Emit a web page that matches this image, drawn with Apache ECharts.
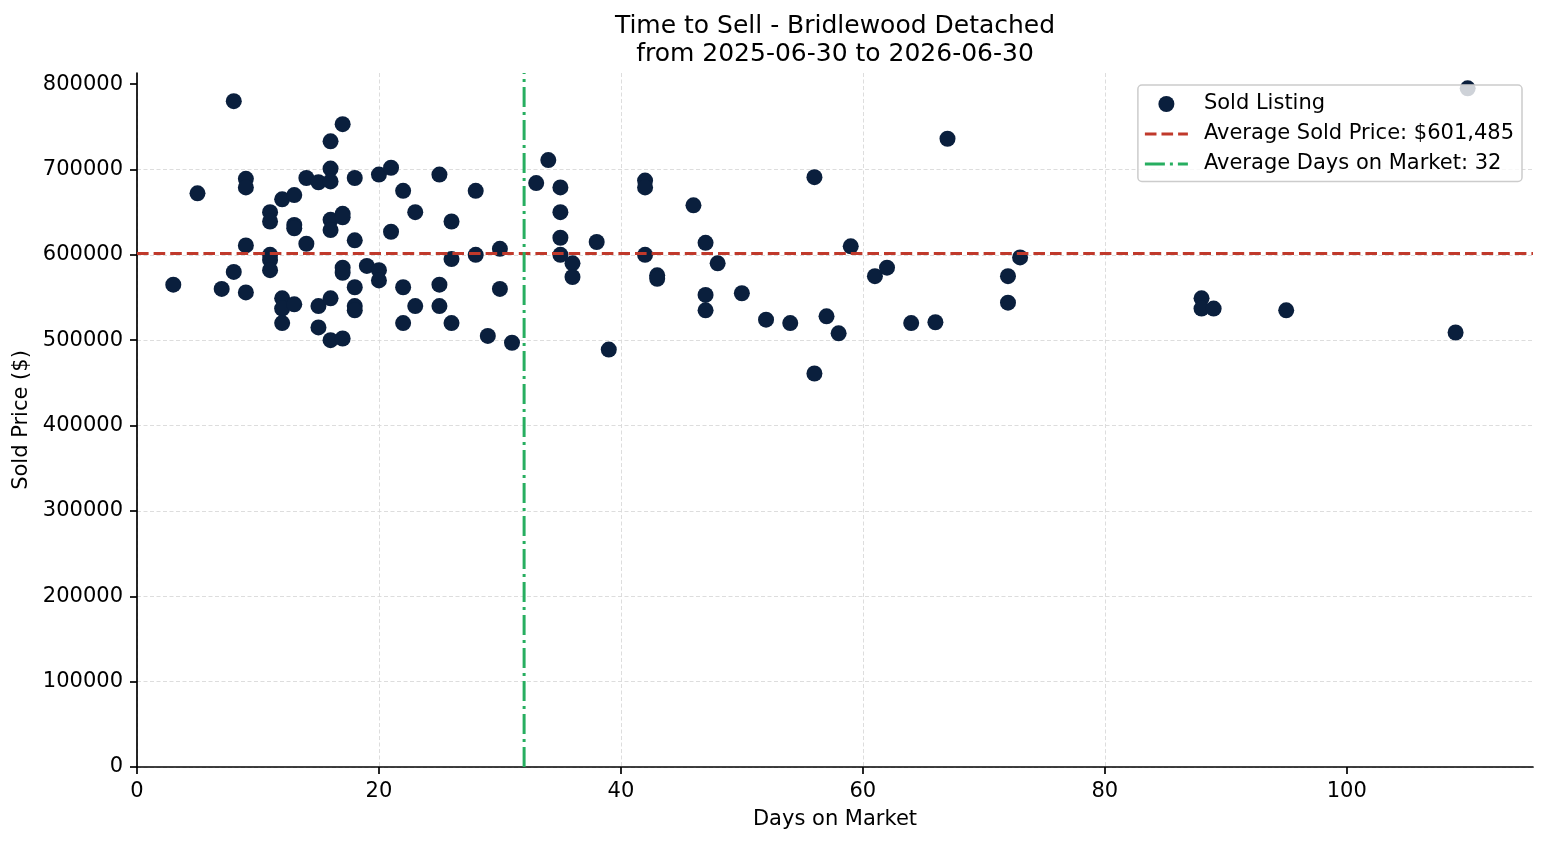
<!DOCTYPE html>
<html><head><meta charset="utf-8">
<script src="https://cdn.jsdelivr.net/npm/echarts@6/dist/echarts.min.js"></script>
<style>html,body{margin:0;padding:0;background:#fff}#c{width:1547px;height:845px}</style>
</head><body><div id="c"></div>
<script>
const titleLine1 = 'Time to Sell - Bridlewood Detached';
const titleLine2 = 'from 2025-06-30 to 2026-06-30';
const xName = 'Days on Market';
const yName = 'Sold Price ($)';
const seriesNames = ['Sold Listing', 'Average Sold Price: $601,485', 'Average Days on Market: 32'];

const days = [3,5,7,8,8,9,9,9,9,11,11,11,11,11,12,12,12,12,13,13,13,13,14,14,15,15,15,
  16,16,16,16,16,16,16,17,17,17,17,17,17,18,18,18,18,18,19,20,20,20,21,21,22,22,22,23,23,
  25,25,25,26,26,26,28,28,29,30,30,31,33,34,35,35,35,35,36,36,38,39,42,42,42,43,43,46,
  47,47,47,48,50,52,54,56,56,57,58,59,61,62,64,66,67,72,72,73,88,88,89,95,109,110];
const prices = [565000,672000,560000,780000,580000,689000,679000,611000,556000,
  650000,639000,600000,594000,582000,665000,549000,537000,520000,670000,635000,631000,542000,
  690000,613000,685000,540000,515000,
  733000,701000,686000,641000,629000,549000,500000,
  753000,648000,644000,585000,579000,502000,
  690000,617000,562000,540000,535000,587000,694000,582000,570000,702000,627000,
  675000,562000,520000,650000,540000,694000,565000,540000,639000,595000,520000,
  675000,600000,505000,607000,560000,497000,684000,711000,679000,650000,620000,600000,
  590000,574000,615000,489000,687000,679000,600000,576000,572000,658000,
  614000,553000,535000,590000,555000,524000,520000,691000,461000,528000,508000,610000,
  575000,585000,520000,521000,736000,575000,544000,597000,549000,537000,537000,535000,509000,795000];
const avgPrice = 601485;
const avgDays = 32;
const xTicks = [0,20,40,60,80,100];
const yTicks = [0,100000,200000,300000,400000,500000,600000,700000,800000];
const xMin = 0, xMax = 115.4;
const yMin = 0, yMax = 813000;

const FONT = 'DejaVu Sans';
const FS = 21;
const chart = echarts.init(document.getElementById('c'), null, {renderer:'canvas'});
const pts = days.map((d,i)=>[d, prices[i]]);

// legend glyphs imitating the dashed / dash-dot line styles
const dashIcon = 'path://M0,0H11.6V3H0Z M16.6,0H28.2V3H16.6Z M33.2,0H43V3H33.2Z';
const dashDotIcon = 'path://M0,0H20V3H0Z M25,0H28V3H25Z M33,0H43V3H33Z';

const axisCommon = {
  axisLine:{show:true, onZero:false, lineStyle:{color:'#000', width:1.7}},
  axisTick:{show:true, inside:false, length:7, lineStyle:{color:'#000', width:1.7}},
  splitLine:{show:true, showMaxLine:false, lineStyle:{color:'#d9d9d9', width:0.9, type:[4,2.5]}},
  nameTextStyle:{fontFamily:FONT, fontSize:FS, color:'#000'},
};

chart.setOption({
  animation:false,
  backgroundColor:'#fff',
  grid:{left:137, right:14, top:73, bottom:78, containLabel:false},
  graphic:[
    {type:'text', x:835, y:26, style:{text:titleLine1, align:'center', verticalAlign:'middle', font:'25px "DejaVu Sans"', fill:'#000'}},
    {type:'text', x:835, y:54, style:{text:titleLine2, align:'center', verticalAlign:'middle', font:'25px "DejaVu Sans"', fill:'#000'}}
  ],
  legend:{
    show:true, orient:'vertical', right:25, top:85, z:10,
    data:[{name:seriesNames[0], icon:'circle'},
          {name:seriesNames[1], icon:dashIcon, itemStyle:{color:'#c0392b'}},
          {name:seriesNames[2], icon:dashDotIcon, itemStyle:{color:'#27ae60'}}],
    itemWidth:43, itemHeight:16, itemGap:9, symbolKeepAspect:true,
    padding:[8.5,8,7,7],
    backgroundColor:'rgba(255,255,255,0.8)', borderColor:'#cccccc', borderWidth:1.5, borderRadius:4,
    textStyle:{fontFamily:FONT, fontSize:FS, color:'#000', lineHeight:21, padding:[0,0,0,11]}
  },
  xAxis:Object.assign({}, axisCommon, {
    type:'value', min:xMin, max:xMax, interval:20,
    name:xName, nameLocation:'middle', nameGap:42,
    axisLabel:{customValues:xTicks, margin:14, fontFamily:FONT, fontSize:FS, color:'#000'},
    axisTick:Object.assign({}, axisCommon.axisTick, {customValues:xTicks})
  }),
  yAxis:Object.assign({}, axisCommon, {
    type:'value', min:yMin, max:yMax, interval:100000,
    name:yName, nameLocation:'middle', nameGap:100,
    axisLabel:{customValues:yTicks, margin:14, fontFamily:FONT, fontSize:FS, color:'#000', formatter:v=>String(v)},
    axisTick:Object.assign({}, axisCommon.axisTick, {customValues:yTicks})
  }),
  series:[
    {name:seriesNames[0], type:'scatter', data:pts, symbol:'circle', symbolSize:16, z:2,
     itemStyle:{color:'#0a1f3d', opacity:1}},
    {name:seriesNames[1], type:'line', data:[[xMin,avgPrice],[xMax,avgPrice]], symbol:'none', showSymbol:false, z:3,
     lineStyle:{color:'#c0392b', width:3, type:[11.6,5]}, itemStyle:{color:'#c0392b'}},
    {name:seriesNames[2], type:'line', data:[[avgDays,yMin],[avgDays,yMax]], symbol:'none', showSymbol:false, z:3,
     lineStyle:{color:'#27ae60', width:3, type:[20,5,3,5]}, itemStyle:{color:'#27ae60'}}
  ]
});
</script></body></html>
